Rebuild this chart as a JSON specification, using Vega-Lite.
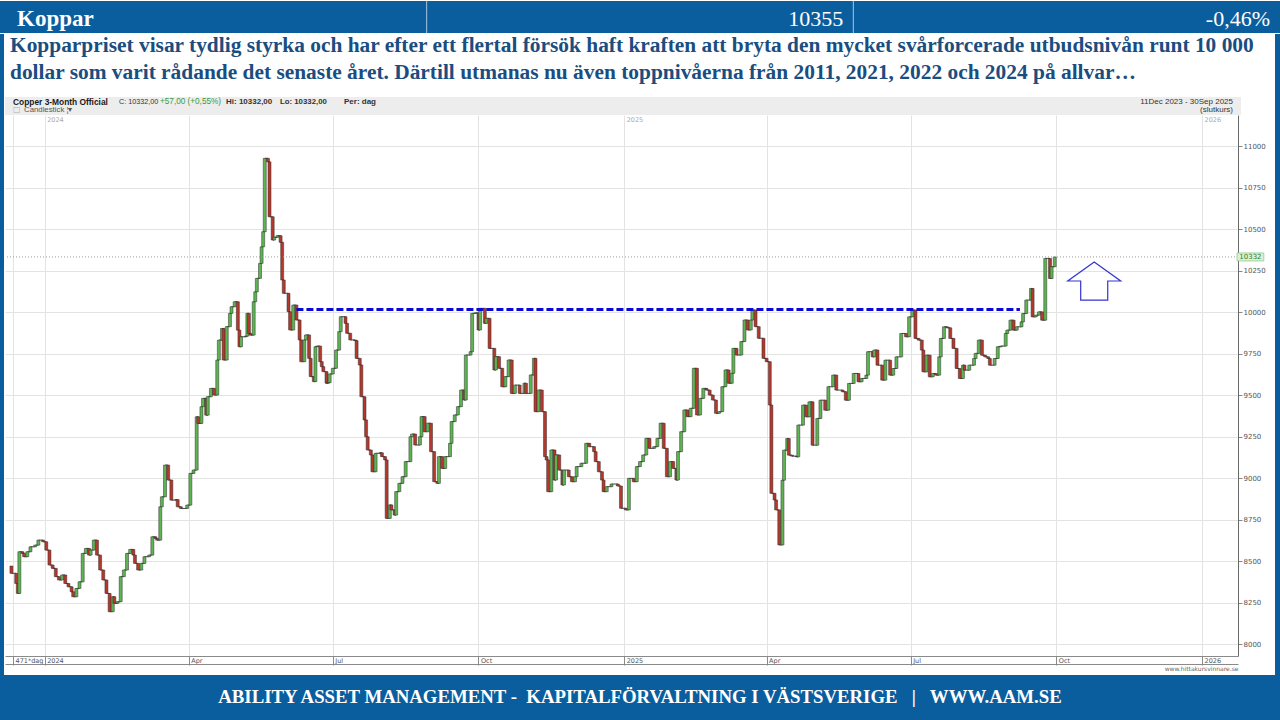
{
"$schema": "https://vega.github.io/schema/vega-lite/v6.json",
"background": "white",
"padding": 0,
"spacing": 0,
"config": {"view": {"stroke": null}, "concat": {"spacing": 0}},
"datasets": {
"cu": [
{"d":"2023-12-11","o":8470,"c":8426},{"d":"2023-12-14","o":8426,"c":8365},{"d":"2023-12-15","o":8365,"c":8305},{"d":"2023-12-16","o":8305,"c":8556},{"d":"2023-12-18","o":8556,"c":8546},{"d":"2023-12-19","o":8546,"c":8526},{"d":"2023-12-21","o":8526,"c":8556},{"d":"2023-12-23","o":8556,"c":8586},{"d":"2023-12-26","o":8586,"c":8596},{"d":"2023-12-28","o":8596,"c":8626},{"d":"2023-12-31","o":8626,"c":8616},
{"d":"2024-01-02","o":8616,"c":8566},{"d":"2024-01-04","o":8566,"c":8476},{"d":"2024-01-06","o":8476,"c":8456},{"d":"2024-01-08","o":8456,"c":8406},{"d":"2024-01-10","o":8406,"c":8386},{"d":"2024-01-12","o":8386,"c":8416},{"d":"2024-01-14","o":8416,"c":8365},{"d":"2024-01-16","o":8365,"c":8345},{"d":"2024-01-18","o":8345,"c":8315},{"d":"2024-01-19","o":8315,"c":8285},{"d":"2024-01-21","o":8285,"c":8335},{"d":"2024-01-23","o":8335,"c":8375},{"d":"2024-01-25","o":8375,"c":8546},{"d":"2024-01-27","o":8546,"c":8576},{"d":"2024-01-29","o":8576,"c":8536},{"d":"2024-01-30","o":8536,"c":8566},
{"d":"2024-02-01","o":8566,"c":8626},{"d":"2024-02-03","o":8626,"c":8536},{"d":"2024-02-05","o":8536,"c":8446},{"d":"2024-02-07","o":8446,"c":8386},{"d":"2024-02-09","o":8386,"c":8305},{"d":"2024-02-11","o":8305,"c":8195},{"d":"2024-02-13","o":8195,"c":8285},{"d":"2024-02-14","o":8285,"c":8245},{"d":"2024-02-16","o":8245,"c":8255},{"d":"2024-02-18","o":8255,"c":8406},{"d":"2024-02-20","o":8406,"c":8446},{"d":"2024-02-22","o":8446,"c":8546},{"d":"2024-02-24","o":8546,"c":8570},{"d":"2024-02-26","o":8570,"c":8536},{"d":"2024-02-27","o":8536,"c":8486},{"d":"2024-02-29","o":8486,"c":8446},
{"d":"2024-03-02","o":8446,"c":8486},{"d":"2024-03-04","o":8486,"c":8526},{"d":"2024-03-07","o":8526,"c":8536},{"d":"2024-03-09","o":8536,"c":8646},{"d":"2024-03-11","o":8646,"c":8636},{"d":"2024-03-12","o":8636,"c":8626},{"d":"2024-03-14","o":8626,"c":8827},{"d":"2024-03-15","o":8827,"c":8887},{"d":"2024-03-17","o":8887,"c":9078},{"d":"2024-03-19","o":9078,"c":8988},{"d":"2024-03-21","o":8988,"c":8867},{"d":"2024-03-24","o":8867,"c":8870},{"d":"2024-03-25","o":8870,"c":8827},{"d":"2024-03-27","o":8827,"c":8817},{"d":"2024-03-31","o":8817,"c":8837},
{"d":"2024-04-02","o":8837,"c":9028},{"d":"2024-04-04","o":9028,"c":9048},{"d":"2024-04-06","o":9048,"c":9369},{"d":"2024-04-07","o":9369,"c":9329},{"d":"2024-04-09","o":9329,"c":9430},{"d":"2024-04-10","o":9430,"c":9480},{"d":"2024-04-12","o":9480,"c":9379},{"d":"2024-04-13","o":9379,"c":9490},{"d":"2024-04-15","o":9490,"c":9540},{"d":"2024-04-17","o":9540,"c":9500},{"d":"2024-04-19","o":9500,"c":9711},{"d":"2024-04-20","o":9711,"c":9831},{"d":"2024-04-22","o":9831,"c":9901},{"d":"2024-04-23","o":9901,"c":9711},{"d":"2024-04-25","o":9711,"c":9912},{"d":"2024-04-27","o":9912,"c":9992},{"d":"2024-04-28","o":9992,"c":10032},{"d":"2024-04-30","o":10032,"c":10062},
{"d":"2024-05-02","o":10062,"c":9891},{"d":"2024-05-03","o":9891,"c":9791},{"d":"2024-05-04","o":9791,"c":9851},{"d":"2024-05-07","o":9851,"c":9855},{"d":"2024-05-08","o":9855,"c":9992},{"d":"2024-05-09","o":9992,"c":9871},{"d":"2024-05-10","o":9871,"c":9861},{"d":"2024-05-12","o":9861,"c":10062},{"d":"2024-05-13","o":10062,"c":10122},{"d":"2024-05-14","o":10122,"c":10203},{"d":"2024-05-16","o":10203,"c":10293},{"d":"2024-05-17","o":10293,"c":10393},{"d":"2024-05-18","o":10393,"c":10484},{"d":"2024-05-19","o":10484,"c":10926},{"d":"2024-05-21","o":10926,"c":10905},{"d":"2024-05-22","o":10905,"c":10574},{"d":"2024-05-24","o":10574,"c":10434},{"d":"2024-05-25","o":10434,"c":10450},{"d":"2024-05-27","o":10450,"c":10460},{"d":"2024-05-29","o":10460,"c":10420},{"d":"2024-05-30","o":10420,"c":10193},{"d":"2024-05-31","o":10193,"c":10113},
{"d":"2024-06-03","o":10113,"c":10002},{"d":"2024-06-04","o":10002,"c":9892},{"d":"2024-06-06","o":9892,"c":10042},{"d":"2024-06-08","o":10042,"c":9952},{"d":"2024-06-10","o":9952,"c":9832},{"d":"2024-06-11","o":9832,"c":9701},{"d":"2024-06-13","o":9701,"c":9832},{"d":"2024-06-14","o":9832,"c":9862},{"d":"2024-06-16","o":9862,"c":9721},{"d":"2024-06-17","o":9721,"c":9611},{"d":"2024-06-19","o":9611,"c":9581},{"d":"2024-06-20","o":9581,"c":9791},{"d":"2024-06-21","o":9791,"c":9795},{"d":"2024-06-23","o":9795,"c":9701},{"d":"2024-06-24","o":9701,"c":9671},{"d":"2024-06-25","o":9671,"c":9641},{"d":"2024-06-27","o":9641,"c":9571},{"d":"2024-06-28","o":9571,"c":9575},{"d":"2024-06-29","o":9575,"c":9627},
{"d":"2024-07-01","o":9627,"c":9661},{"d":"2024-07-03","o":9661,"c":9771},{"d":"2024-07-05","o":9771,"c":9882},{"d":"2024-07-06","o":9882,"c":9972},{"d":"2024-07-09","o":9972,"c":9932},{"d":"2024-07-10","o":9932,"c":9872},{"d":"2024-07-12","o":9872,"c":9832},{"d":"2024-07-15","o":9832,"c":9828},{"d":"2024-07-16","o":9828,"c":9721},{"d":"2024-07-18","o":9721,"c":9681},{"d":"2024-07-19","o":9681,"c":9490},{"d":"2024-07-21","o":9490,"c":9350},{"d":"2024-07-22","o":9350,"c":9249},{"d":"2024-07-23","o":9249,"c":9169},{"d":"2024-07-25","o":9169,"c":9139},{"d":"2024-07-26","o":9139,"c":9038},{"d":"2024-07-28","o":9038,"c":9149},{"d":"2024-07-31","o":9149,"c":9152},
{"d":"2024-08-01","o":9152,"c":9129},{"d":"2024-08-03","o":9129,"c":9109},{"d":"2024-08-04","o":9109,"c":8757},{"d":"2024-08-06","o":8757,"c":8838},{"d":"2024-08-07","o":8838,"c":8808},{"d":"2024-08-09","o":8808,"c":8777},{"d":"2024-08-10","o":8777,"c":8918},{"d":"2024-08-12","o":8918,"c":8968},{"d":"2024-08-14","o":8968,"c":9008},{"d":"2024-08-16","o":9008,"c":9099},{"d":"2024-08-19","o":9099,"c":9249},{"d":"2024-08-20","o":9249,"c":9265},{"d":"2024-08-22","o":9265,"c":9199},{"d":"2024-08-25","o":9199,"c":9249},{"d":"2024-08-26","o":9249,"c":9370},{"d":"2024-08-28","o":9370,"c":9279},{"d":"2024-08-30","o":9279,"c":9330},
{"d":"2024-09-01","o":9330,"c":9159},{"d":"2024-09-03","o":9159,"c":8978},{"d":"2024-09-05","o":8978,"c":8968},{"d":"2024-09-06","o":8968,"c":9129},{"d":"2024-09-08","o":9129,"c":9058},{"d":"2024-09-10","o":9058,"c":9129},{"d":"2024-09-13","o":9129,"c":9209},{"d":"2024-09-14","o":9209,"c":9340},{"d":"2024-09-16","o":9340,"c":9380},{"d":"2024-09-18","o":9380,"c":9430},{"d":"2024-09-20","o":9430,"c":9530},{"d":"2024-09-22","o":9530,"c":9470},{"d":"2024-09-23","o":9470,"c":9741},{"d":"2024-09-26","o":9741,"c":9761},{"d":"2024-09-27","o":9761,"c":9992},{"d":"2024-09-29","o":9992,"c":9995},
{"d":"2024-10-01","o":9995,"c":9892},{"d":"2024-10-02","o":9892,"c":10022},{"d":"2024-10-05","o":10022,"c":9932},{"d":"2024-10-06","o":9932,"c":9962},{"d":"2024-10-08","o":9962,"c":9781},{"d":"2024-10-11","o":9781,"c":9651},{"d":"2024-10-12","o":9651,"c":9731},{"d":"2024-10-14","o":9731,"c":9661},{"d":"2024-10-16","o":9661,"c":9550},{"d":"2024-10-18","o":9550,"c":9611},{"d":"2024-10-20","o":9611,"c":9711},{"d":"2024-10-22","o":9711,"c":9510},{"d":"2024-10-24","o":9510,"c":9560},{"d":"2024-10-27","o":9560,"c":9510},{"d":"2024-10-30","o":9510,"c":9571},{"d":"2024-10-31","o":9571,"c":9510},
{"d":"2024-11-03","o":9510,"c":9621},{"d":"2024-11-05","o":9621,"c":9721},{"d":"2024-11-06","o":9721,"c":9400},{"d":"2024-11-08","o":9400,"c":9530},{"d":"2024-11-10","o":9530,"c":9400},{"d":"2024-11-12","o":9400,"c":9129},{"d":"2024-11-13","o":9129,"c":9109},{"d":"2024-11-14","o":9109,"c":8918},{"d":"2024-11-16","o":8918,"c":9169},{"d":"2024-11-18","o":9169,"c":8988},{"d":"2024-11-19","o":8988,"c":9139},{"d":"2024-11-21","o":9139,"c":9048},{"d":"2024-11-23","o":9048,"c":8958},{"d":"2024-11-24","o":8958,"c":9048},{"d":"2024-11-27","o":9048,"c":9008},{"d":"2024-11-29","o":9008,"c":8978},
{"d":"2024-12-01","o":8978,"c":9008},{"d":"2024-12-02","o":9008,"c":9069},{"d":"2024-12-05","o":9069,"c":9089},{"d":"2024-12-08","o":9089,"c":9209},{"d":"2024-12-10","o":9209,"c":9189},{"d":"2024-12-13","o":9189,"c":9159},{"d":"2024-12-14","o":9159,"c":9099},{"d":"2024-12-16","o":9099,"c":9038},{"d":"2024-12-18","o":9038,"c":8988},{"d":"2024-12-19","o":8988,"c":8918},{"d":"2024-12-21","o":8918,"c":8948},{"d":"2024-12-24","o":8948,"c":8964},{"d":"2024-12-28","o":8964,"c":8952},{"d":"2024-12-30","o":8952,"c":8818},
{"d":"2025-01-02","o":8818,"c":8808},{"d":"2025-01-04","o":8808,"c":8998},{"d":"2025-01-07","o":8998,"c":8978},{"d":"2025-01-09","o":8978,"c":9069},{"d":"2025-01-11","o":9069,"c":9099},{"d":"2025-01-13","o":9099,"c":9139},{"d":"2025-01-15","o":9139,"c":9239},{"d":"2025-01-17","o":9239,"c":9179},{"d":"2025-01-20","o":9179,"c":9189},{"d":"2025-01-22","o":9189,"c":9239},{"d":"2025-01-24","o":9239,"c":9330},{"d":"2025-01-26","o":9330,"c":9179},{"d":"2025-01-28","o":9179,"c":9008},{"d":"2025-01-30","o":9008,"c":9099},
{"d":"2025-02-01","o":9099,"c":9058},{"d":"2025-02-03","o":9058,"c":8988},{"d":"2025-02-04","o":8988,"c":9159},{"d":"2025-02-06","o":9159,"c":9279},{"d":"2025-02-08","o":9279,"c":9410},{"d":"2025-02-10","o":9410,"c":9370},{"d":"2025-02-12","o":9370,"c":9420},{"d":"2025-02-14","o":9420,"c":9661},{"d":"2025-02-16","o":9661,"c":9380},{"d":"2025-02-18","o":9380,"c":9480},{"d":"2025-02-20","o":9480,"c":9540},{"d":"2025-02-22","o":9540,"c":9530},{"d":"2025-02-24","o":9530,"c":9500},{"d":"2025-02-26","o":9500,"c":9470},{"d":"2025-02-28","o":9470,"c":9390},
{"d":"2025-03-02","o":9390,"c":9400},{"d":"2025-03-04","o":9400,"c":9550},{"d":"2025-03-06","o":9550,"c":9651},{"d":"2025-03-08","o":9651,"c":9571},{"d":"2025-03-10","o":9571,"c":9631},{"d":"2025-03-11","o":9631,"c":9781},{"d":"2025-03-13","o":9781,"c":9741},{"d":"2025-03-16","o":9741,"c":9822},{"d":"2025-03-18","o":9822,"c":9952},{"d":"2025-03-20","o":9952,"c":9892},{"d":"2025-03-22","o":9892,"c":9952},{"d":"2025-03-23","o":9952,"c":10012},{"d":"2025-03-25","o":10012,"c":9912},{"d":"2025-03-27","o":9912,"c":9842},{"d":"2025-03-30","o":9842,"c":9721},
{"d":"2025-04-01","o":9721,"c":9701},{"d":"2025-04-03","o":9701,"c":9440},{"d":"2025-04-04","o":9440,"c":8908},{"d":"2025-04-06","o":8908,"c":8868},{"d":"2025-04-07","o":8868,"c":8808},{"d":"2025-04-09","o":8808,"c":8597},{"d":"2025-04-11","o":8597,"c":8987},{"d":"2025-04-12","o":8987,"c":9168},{"d":"2025-04-14","o":9168,"c":9238},{"d":"2025-04-15","o":9238,"c":9138},{"d":"2025-04-17","o":9138,"c":9132},{"d":"2025-04-20","o":9132,"c":9128},{"d":"2025-04-21","o":9128,"c":9319},{"d":"2025-04-24","o":9319,"c":9439},{"d":"2025-04-26","o":9439,"c":9369},{"d":"2025-04-28","o":9369,"c":9459},{"d":"2025-04-30","o":9459,"c":9198},
{"d":"2025-05-03","o":9198,"c":9359},{"d":"2025-05-05","o":9359,"c":9469},{"d":"2025-05-08","o":9469,"c":9409},{"d":"2025-05-10","o":9409,"c":9550},{"d":"2025-05-13","o":9550,"c":9620},{"d":"2025-05-15","o":9620,"c":9530},{"d":"2025-05-19","o":9530,"c":9520},{"d":"2025-05-21","o":9520,"c":9469},{"d":"2025-05-23","o":9469,"c":9570},{"d":"2025-05-26","o":9570,"c":9630},{"d":"2025-05-29","o":9630,"c":9580},{"d":"2025-05-31","o":9580,"c":9600},
{"d":"2025-06-03","o":9600,"c":9620},{"d":"2025-06-04","o":9620,"c":9761},{"d":"2025-06-07","o":9761,"c":9730},{"d":"2025-06-08","o":9730,"c":9771},{"d":"2025-06-10","o":9771,"c":9680},{"d":"2025-06-13","o":9680,"c":9590},{"d":"2025-06-15","o":9590,"c":9710},{"d":"2025-06-18","o":9710,"c":9620},{"d":"2025-06-20","o":9620,"c":9660},{"d":"2025-06-22","o":9660,"c":9730},{"d":"2025-06-25","o":9730,"c":9871},{"d":"2025-06-28","o":9871,"c":9851},{"d":"2025-06-30","o":9851,"c":9971},
{"d":"2025-07-02","o":9971,"c":10012},{"d":"2025-07-04","o":10012,"c":9841},{"d":"2025-07-06","o":9841,"c":9831},{"d":"2025-07-08","o":9831,"c":9771},{"d":"2025-07-09","o":9771,"c":9640},{"d":"2025-07-11","o":9640,"c":9740},{"d":"2025-07-13","o":9740,"c":9610},{"d":"2025-07-15","o":9610,"c":9630},{"d":"2025-07-17","o":9630,"c":9620},{"d":"2025-07-19","o":9620,"c":9730},{"d":"2025-07-20","o":9730,"c":9841},{"d":"2025-07-22","o":9841,"c":9911},{"d":"2025-07-24","o":9911,"c":9905},{"d":"2025-07-26","o":9905,"c":9841},{"d":"2025-07-28","o":9841,"c":9781},{"d":"2025-07-30","o":9781,"c":9660},
{"d":"2025-08-01","o":9660,"c":9600},{"d":"2025-08-03","o":9600,"c":9680},{"d":"2025-08-04","o":9680,"c":9650},{"d":"2025-08-07","o":9650,"c":9680},{"d":"2025-08-10","o":9680,"c":9720},{"d":"2025-08-11","o":9720,"c":9751},{"d":"2025-08-13","o":9751,"c":9831},{"d":"2025-08-15","o":9831,"c":9740},{"d":"2025-08-17","o":9740,"c":9730},{"d":"2025-08-19","o":9730,"c":9720},{"d":"2025-08-20","o":9720,"c":9680},{"d":"2025-08-23","o":9680,"c":9720},{"d":"2025-08-25","o":9720,"c":9791},{"d":"2025-08-27","o":9791,"c":9795},{"d":"2025-08-30","o":9795,"c":9871},{"d":"2025-08-31","o":9871,"c":9891},
{"d":"2025-09-02","o":9891,"c":9951},{"d":"2025-09-04","o":9951,"c":9891},{"d":"2025-09-06","o":9891,"c":9911},{"d":"2025-09-09","o":9911,"c":9941},{"d":"2025-09-10","o":9941,"c":9991},{"d":"2025-09-12","o":9991,"c":10072},{"d":"2025-09-15","o":10072,"c":10142},{"d":"2025-09-16","o":10142,"c":9971},{"d":"2025-09-18","o":9971,"c":9981},{"d":"2025-09-20","o":9981,"c":10001},{"d":"2025-09-22","o":10001,"c":9951},{"d":"2025-09-24","o":9951,"c":10323},{"d":"2025-09-27","o":10323,"c":10202},{"d":"2025-09-28","o":10202,"c":10273},{"d":"2025-09-30","o":10273,"c":10332}
]
},
"vconcat": [
{
"width": 1280, "height": 32,
"view": {"fill": "#0b5e9e", "stroke": null},
"data": {"values": [{"name": "Koppar", "price": "10355", "chg": "-0,46%"}]},
"layer": [
{"mark": {"type": "rule", "color": "#a9c4de", "strokeWidth": 1}, "encoding": {"x": {"datum": 1, "type": "quantitative", "scale": {"domain": [0, 3]}, "axis": null}}},
{"mark": {"type": "rule", "color": "#a9c4de", "strokeWidth": 1}, "encoding": {"x": {"datum": 2, "type": "quantitative", "scale": {"domain": [0, 3]}, "axis": null}}},
{"mark": {"type": "text", "align": "left", "baseline": "alphabetic", "dx": 17, "dy": 9, "font": "Liberation Serif", "fontWeight": "bold", "fontSize": 23, "color": "white"}, "encoding": {"x": {"datum": 0, "type": "quantitative", "scale": {"domain": [0, 3]}, "axis": null}, "text": {"field": "name"}}},
{"mark": {"type": "text", "align": "right", "baseline": "alphabetic", "dx": -10, "dy": 9, "font": "Liberation Serif", "fontSize": 22, "color": "white"}, "encoding": {"x": {"datum": 2, "type": "quantitative", "scale": {"domain": [0, 3]}, "axis": null}, "text": {"field": "price"}}},
{"mark": {"type": "text", "align": "right", "baseline": "alphabetic", "dx": -10, "dy": 9, "font": "Liberation Serif", "fontSize": 22, "color": "white"}, "encoding": {"x": {"datum": 3, "type": "quantitative", "scale": {"domain": [0, 3]}, "axis": null}, "text": {"field": "chg"}}}
]
},
{
"spacing": 0,
"hconcat": [
{"width": 4, "height": 641, "view": {"fill": "#0b5e9e", "stroke": null}, "data": {"values": [{}]}, "mark": {"type": "text", "text": ""}, "encoding": {}},
{
"spacing": 0,
"vconcat": [
{
"width": 1270, "height": 63,
"view": {"stroke": null},
"data": {"values": [
{"row": 1, "t": "Kopparpriset visar tydlig styrka och har efter ett flertal försök haft kraften att bryta den mycket svårforcerade utbudsnivån runt 10 000"},
{"row": 2, "t": "dollar som varit rådande det senaste året. Därtill utmanas nu även toppnivåerna från 2011, 2021, 2022 och 2024 på allvar…"}
]},
"mark": {"type": "text", "align": "left", "baseline": "alphabetic", "dx": 5, "dy": 0, "font": "Liberation Serif", "fontWeight": "bold", "fontSize": 21.4, "color": "#1a4d80"},
"encoding": {
"x": {"datum": 0, "type": "quantitative", "scale": {"domain": [0, 1]}, "axis": null},
"y": {"field": "row", "type": "ordinal", "scale": {"type": "point", "padding": 0.7115}, "axis": null},
"text": {"field": "t"}
}
},
{
"width": 1236, "height": 18,
"view": {"fill": "#ededed", "stroke": null},
"layer": [
{"data": {"values": [{"t": "Copper 3-Month Official"}]}, "mark": {"type": "text", "align": "left", "baseline": "middle", "dx": 8, "dy": -4, "font": "Liberation Sans", "fontWeight": "bold", "fontSize": 8.4, "color": "#1a1a1a"}, "encoding": {"x": {"datum": 0, "type": "quantitative", "scale": {"domain": [0, 1]}, "axis": null}, "text": {"field": "t"}}},
{"data": {"values": [{"t": "C: 10332,00"}]}, "mark": {"type": "text", "align": "left", "baseline": "middle", "dx": 114, "dy": -4, "font": "Liberation Sans", "fontSize": 7.2, "color": "#333333"}, "encoding": {"x": {"datum": 0, "type": "quantitative", "scale": {"domain": [0, 1]}, "axis": null}, "text": {"field": "t"}}},
{"data": {"values": [{"t": "+57,00 (+0,55%)"}]}, "mark": {"type": "text", "align": "left", "baseline": "middle", "dx": 155, "dy": -4, "font": "Liberation Sans", "fontSize": 8.2, "color": "#3c9c3c"}, "encoding": {"x": {"datum": 0, "type": "quantitative", "scale": {"domain": [0, 1]}, "axis": null}, "text": {"field": "t"}}},
{"data": {"values": [{"t": "Hi: 10332,00"}]}, "mark": {"type": "text", "align": "left", "baseline": "middle", "dx": 221, "dy": -4, "font": "Liberation Sans", "fontWeight": "bold", "fontSize": 8, "color": "#333333"}, "encoding": {"x": {"datum": 0, "type": "quantitative", "scale": {"domain": [0, 1]}, "axis": null}, "text": {"field": "t"}}},
{"data": {"values": [{"t": "Lo: 10332,00"}]}, "mark": {"type": "text", "align": "left", "baseline": "middle", "dx": 275, "dy": -4, "font": "Liberation Sans", "fontWeight": "bold", "fontSize": 7.8, "color": "#333333"}, "encoding": {"x": {"datum": 0, "type": "quantitative", "scale": {"domain": [0, 1]}, "axis": null}, "text": {"field": "t"}}},
{"data": {"values": [{"t": "Per: dag"}]}, "mark": {"type": "text", "align": "left", "baseline": "middle", "dx": 339, "dy": -4, "font": "Liberation Sans", "fontWeight": "bold", "fontSize": 8, "color": "#333333"}, "encoding": {"x": {"datum": 0, "type": "quantitative", "scale": {"domain": [0, 1]}, "axis": null}, "text": {"field": "t"}}},
{"data": {"values": [{"t": "□"}]}, "mark": {"type": "text", "align": "left", "baseline": "middle", "dx": 8, "dy": 4, "font": "DejaVu Sans", "fontSize": 8, "color": "#b0b0b0"}, "encoding": {"x": {"datum": 0, "type": "quantitative", "scale": {"domain": [0, 1]}, "axis": null}, "text": {"field": "t"}}},
{"data": {"values": [{"t": "Candlestick ¦▾"}]}, "mark": {"type": "text", "align": "left", "baseline": "middle", "dx": 19, "dy": 4, "font": "Liberation Sans", "fontSize": 7.8, "color": "#555555"}, "encoding": {"x": {"datum": 0, "type": "quantitative", "scale": {"domain": [0, 1]}, "axis": null}, "text": {"field": "t"}}},
{"data": {"values": [{"t": "11Dec 2023 - 30Sep 2025"}]}, "mark": {"type": "text", "align": "right", "baseline": "middle", "dx": -8, "dy": -4, "font": "Liberation Sans", "fontSize": 8, "color": "#333333"}, "encoding": {"x": {"datum": 1, "type": "quantitative", "scale": {"domain": [0, 1]}, "axis": null}, "text": {"field": "t"}}},
{"data": {"values": [{"t": "(slutkurs)"}]}, "mark": {"type": "text", "align": "right", "baseline": "middle", "dx": -8, "dy": 4, "font": "Liberation Sans", "fontSize": 8, "color": "#333333"}, "encoding": {"x": {"datum": 1, "type": "quantitative", "scale": {"domain": [0, 1]}, "axis": null}, "text": {"field": "t"}}}
]
},
{
"width": 1233, "height": 541,
"view": {"stroke": null},
"resolve": {"axis": {"x": "independent", "y": "independent"}},
"layer": [
{
"data": {"name": "cu"},
"mark": {"type": "line", "interpolate": "step-after", "color": "#4a4a4a", "strokeWidth": 1},
"encoding": {
"x": {"field": "d", "type": "temporal",
"scale": {"type": "utc", "nice": false, "domain": [{"year": 2023, "month": 12, "date": 10, "hours": 2, "utc": true}, {"year": 2026, "month": 1, "date": 20, "hours": 14, "utc": true}]},
"axis": {"orient": "bottom",
"values": [{"year": 2023, "month": 12, "date": 12, "utc": true}, {"year": 2024, "month": 1, "date": 1, "utc": true}, {"year": 2024, "month": 4, "date": 1, "utc": true}, {"year": 2024, "month": 7, "date": 1, "utc": true}, {"year": 2024, "month": 10, "date": 1, "utc": true}, {"year": 2025, "month": 1, "date": 1, "utc": true}, {"year": 2025, "month": 4, "date": 1, "utc": true}, {"year": 2025, "month": 7, "date": 1, "utc": true}, {"year": 2025, "month": 10, "date": 1, "utc": true}, {"year": 2026, "month": 1, "date": 1, "utc": true}],
"labelExpr": "datum.value < utc(2024,0,1) ? '471*dag' : (utcmonth(datum.value) == 0 ? utcFormat(datum.value, '%Y') : utcFormat(datum.value, '%b'))",
"grid": true, "gridColor": "#e3e3e3", "gridWidth": 1,
"domain": true, "domainColor": "#8a8a8a",
"ticks": true, "tickSize": 9, "tickColor": "#8a8a8a",
"labelAlign": "left", "labelBaseline": "top", "labelPadding": -8, "labelOffset": 2,
"labelFont": "DejaVu Sans", "labelFontSize": 6.5, "labelColor": "#555555",
"labelOverlap": false, "labelFlush": false, "labelBound": false,
"title": "www.hittakursvinnare.se", "titleAnchor": "end", "titleFont": "DejaVu Sans", "titleFontSize": 6, "titleFontWeight": "normal", "titleColor": "#666666", "titlePadding": 0, "titleBaseline": "top"}},
"y": {"field": "c", "type": "quantitative",
"scale": {"domain": [7928, 11187], "zero": false, "nice": false},
"axis": {"orient": "right", "values": [8000, 8250, 8500, 8750, 9000, 9250, 9500, 9750, 10000, 10250, 10500, 10750, 11000],
"format": "d", "grid": true, "gridColor": "#e3e3e3", "gridWidth": 1,
"domain": true, "domainColor": "#6a6a6a", "ticks": true, "tickSize": 4, "tickColor": "#888888",
"labelFont": "DejaVu Sans", "labelFontSize": 7, "labelColor": "#555555", "labelPadding": 1, "labelOverlap": false, "title": null}}
}
},
{
"data": {"name": "cu"},
"mark": {"type": "bar", "size": 3, "stroke": "#2e2e2e", "strokeWidth": 0.5},
"encoding": {
"x": {"field": "d", "type": "temporal",
"scale": {"type": "utc", "nice": false, "domain": [{"year": 2023, "month": 12, "date": 10, "hours": 2, "utc": true}, {"year": 2026, "month": 1, "date": 20, "hours": 14, "utc": true}]},
"axis": {"orient": "top", "values": [{"year": 2024, "month": 1, "date": 1, "utc": true}, {"year": 2025, "month": 1, "date": 1, "utc": true}, {"year": 2026, "month": 1, "date": 1, "utc": true}],
"labelExpr": "utcFormat(datum.value, '%Y')", "domain": false, "ticks": false, "grid": false,
"labelAlign": "left", "labelBaseline": "top", "labelPadding": -1, "labelOffset": 2,
"labelFont": "DejaVu Sans", "labelFontSize": 6.5, "labelColor": "#aaaaaa", "labelOverlap": false, "labelFlush": false, "labelBound": false, "title": null}},
"y": {"field": "o", "type": "quantitative", "scale": {"domain": [7928, 11187], "zero": false, "nice": false}, "axis": null},
"y2": {"field": "c"},
"fill": {"condition": {"test": "datum.c >= datum.o", "value": "#5cb551"}, "value": "#b5382c"}
}
},
{
"data": {"values": [{"s": "2024-06-08", "e": "2025-09-08", "lvl": 10015}]},
"mark": {"type": "rule", "color": "#0a0ad0", "strokeWidth": 3, "strokeDash": [7, 3]},
"encoding": {
"x": {"field": "s", "type": "temporal",
"scale": {"type": "utc", "nice": false, "domain": [{"year": 2023, "month": 12, "date": 10, "hours": 2, "utc": true}, {"year": 2026, "month": 1, "date": 20, "hours": 14, "utc": true}]},
"axis": {"orient": "bottom", "offset": 8, "domain": true, "domainColor": "#8a8a8a", "ticks": false, "labels": false, "grid": false, "title": null}},
"x2": {"field": "e"},
"y": {"field": "lvl", "type": "quantitative", "scale": {"domain": [7928, 11187], "zero": false, "nice": false}, "axis": null}
}
},
{
"data": {"values": [{}]},
"mark": {"type": "rule", "color": "#9a9a9a", "strokeWidth": 1, "strokeDash": [1, 2]},
"encoding": {
"y": {"datum": 10332, "type": "quantitative", "scale": {"domain": [7928, 11187], "zero": false, "nice": false}, "axis": null}
}
},
{
"data": {"values": [{}]},
"mark": {"type": "rect", "fill": "#dcf1d6", "stroke": "#93c98b", "strokeWidth": 0.8},
"encoding": {
"x": {"datum": {"year": 2026, "month": 1, "date": 23, "hours": 3, "utc": true}, "type": "temporal", "scale": {"type": "utc", "nice": false, "domain": [{"year": 2023, "month": 12, "date": 10, "hours": 2, "utc": true}, {"year": 2026, "month": 1, "date": 20, "hours": 14, "utc": true}]}, "axis": null},
"x2": {"datum": {"year": 2026, "month": 2, "date": 9, "hours": 1, "utc": true}},
"y": {"datum": 10308, "type": "quantitative", "scale": {"domain": [7928, 11187], "zero": false, "nice": false}, "axis": null},
"y2": {"datum": 10356}
}
},
{
"data": {"values": [{}]},
"mark": {"type": "text", "text": "10332", "align": "center", "baseline": "middle", "font": "DejaVu Sans", "fontSize": 7, "color": "#2e7d32"},
"encoding": {
"x": {"datum": {"year": 2026, "month": 1, "date": 31, "hours": 14, "utc": true}, "type": "temporal", "scale": {"type": "utc", "nice": false, "domain": [{"year": 2023, "month": 12, "date": 10, "hours": 2, "utc": true}, {"year": 2026, "month": 1, "date": 20, "hours": 14, "utc": true}]}, "axis": null},
"y": {"datum": 10332, "type": "quantitative", "scale": {"domain": [7928, 11187], "zero": false, "nice": false}, "axis": null}
}
},
{
"data": {"values": [{}]},
"mark": {"type": "point", "shape": "M0,-0.72L1,0L0.51,0L0.51,0.72L-0.51,0.72L-0.51,0L-1,0Z", "size": 2809, "filled": false, "color": "#3434d0", "strokeWidth": 1.2, "opacity": 1},
"encoding": {
"x": {"datum": {"year": 2025, "month": 10, "date": 24, "hours": 22, "utc": true}, "type": "temporal", "scale": {"type": "utc", "nice": false, "domain": [{"year": 2023, "month": 12, "date": 10, "hours": 2, "utc": true}, {"year": 2026, "month": 1, "date": 20, "hours": 14, "utc": true}]}, "axis": null},
"y": {"datum": 10187, "type": "quantitative", "scale": {"domain": [7928, 11187], "zero": false, "nice": false}, "axis": null}
}
}
]
}
]
},
{"width": 6, "height": 641, "view": {"fill": "#0b5e9e", "stroke": null}, "data": {"values": [{}]}, "mark": {"type": "text", "text": ""}, "encoding": {}}
]
},
{
"width": 1280, "height": 45,
"view": {"fill": "#0b5e9e", "stroke": null},
"data": {"values": [{"t": "ABILITY ASSET MANAGEMENT -\u00a0\u00a0KAPITALFÖRVALTNING I VÄSTSVERIGE\u00a0\u00a0\u00a0|\u00a0\u00a0\u00a0WWW.AAM.SE"}]},
"mark": {"type": "text", "align": "center", "baseline": "alphabetic", "dy": 5.5, "font": "Liberation Serif", "fontWeight": "bold", "fontSize": 18.8, "color": "white"},
"encoding": {"text": {"field": "t"}}
}
]
}
